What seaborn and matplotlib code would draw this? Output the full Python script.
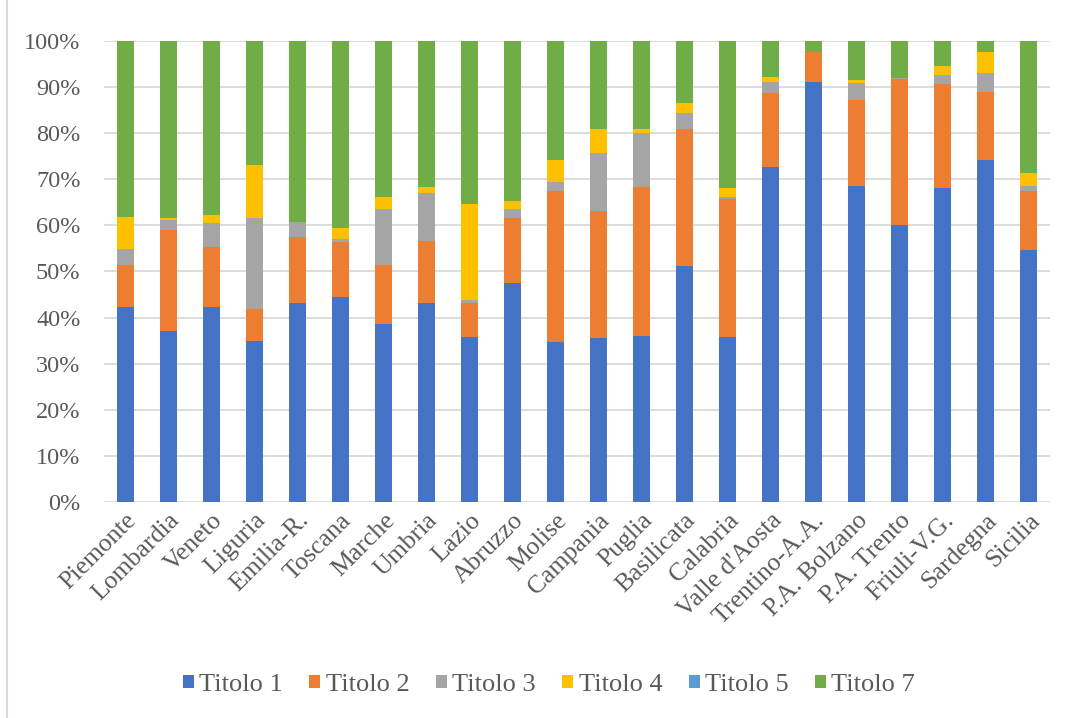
import numpy as np
import matplotlib
matplotlib.use("Agg")
import matplotlib.pyplot as plt
import seaborn as sns
from matplotlib.ticker import PercentFormatter
from matplotlib.patches import Patch
from matplotlib.lines import Line2D

# Regions (x axis)
regioni = ["Piemonte", "Lombardia", "Veneto", "Liguria", "Emilia-R.", "Toscana",
           "Marche", "Umbria", "Lazio", "Abruzzo", "Molise", "Campania", "Puglia",
           "Basilicata", "Calabria", "Valle d'Aosta", "Trentino-A.A.", "P.A. Bolzano",
           "P.A. Trento", "Friuli-V.G.", "Sardegna", "Sicilia"]

# Share of each title per region (percent)
titolo_1 = [42.4, 37.2, 42.4, 35.0, 43.1, 44.4, 38.6, 43.1, 35.8, 47.5, 34.7,
            35.5, 36.0, 51.1, 35.7, 72.7, 91.1, 68.6, 60.0, 68.0, 74.1, 54.7]
titolo_2 = [9.0, 21.7, 12.8, 6.9, 14.4, 12.0, 12.7, 13.5, 7.4, 14.1, 32.7,
            27.5, 32.3, 29.7, 30.0, 15.9, 6.4, 18.6, 31.6, 22.6, 14.8, 12.7]
titolo_3 = [3.5, 2.2, 5.3, 19.7, 3.3, 0.6, 12.2, 10.3, 0.6, 1.9, 2.0,
            12.7, 11.6, 3.6, 0.4, 2.4, 0.0, 3.6, 0.3, 1.9, 4.0, 1.2]
titolo_4 = [7.0, 0.5, 1.7, 11.4, 0.0, 2.4, 2.6, 1.4, 20.9, 1.8, 4.7,
            5.1, 1.0, 2.0, 2.0, 1.2, 0.0, 0.6, 0.0, 2.0, 4.6, 2.7]
titolo_5 = [0.0] * 22
titolo_7 = [38.1, 38.4, 37.8, 27.0, 39.2, 40.6, 33.9, 31.7, 35.3, 34.7, 25.9,
            19.2, 19.1, 13.6, 31.9, 7.8, 2.5, 8.6, 8.1, 5.5, 2.5, 28.7]

serie = ["Titolo 1", "Titolo 2", "Titolo 3", "Titolo 4", "Titolo 5", "Titolo 7"]
colori = ["#4472C4", "#ED7D31", "#A5A5A5", "#FFC000", "#5B9BD5", "#70AD47"]
valori = [titolo_1, titolo_2, titolo_3, titolo_4, titolo_5, titolo_7]

sns.set_theme(style="white")
plt.rcParams["font.family"] = ["Liberation Serif", "DejaVu Serif"]
testo = "#595959"
griglia = "#D9D9D9"

fig = plt.figure(figsize=(10.65, 7.18), dpi=100)
ax = fig.add_axes([104 / 1065, 1 - 502.2 / 718, 946 / 1065, 461.5 / 718])

# Gridlines behind the bars
ax.set_axisbelow(True)
ax.yaxis.grid(True, color=griglia, linewidth=1.3)

base = np.zeros(len(regioni))
for nome, vals, col in zip(serie, valori, colori):
    v = np.array(vals) / 100.0
    sns.barplot(x=regioni, y=v, bottom=base, color=col, saturation=1,
                width=0.385, errorbar=None, ax=ax, linewidth=0)
    base = base + v

ax.set_ylim(0, 1)
ax.set_xlim(-0.5, len(regioni) - 0.5)
ax.set_yticks(np.arange(0, 1.01, 0.1))
ax.yaxis.set_major_formatter(PercentFormatter(1.0, decimals=0))
ax.set_xlabel("")
ax.set_ylabel("")
for s in ax.spines.values():
    s.set_visible(False)

ax.tick_params(axis="y", length=0, pad=17, labelsize=17.5, labelcolor=testo)
ax.tick_params(axis="x", length=0, pad=5, labelsize=18.5, labelcolor=testo)
for lab in ax.get_xticklabels():
    lab.set_rotation(45)
    lab.set_ha("right")
    lab.set_va("top")
    lab.set_rotation_mode("anchor")

handles = [Patch(facecolor=c, edgecolor="none") for c in colori]
fig.legend(handles, serie, loc="center", bbox_to_anchor=(549 / 1065, 1 - 685 / 718),
           ncol=6, frameon=False, fontsize=19, handlelength=0.42, handleheight=0.42,
           handletextpad=0.2, columnspacing=1.0, labelcolor=testo)

# Chart frame edge on the left
fig.add_artist(Line2D([7 / 1065, 7 / 1065], [0, 1], color=griglia, linewidth=1.5,
                      transform=fig.transFigure))

fig.savefig("out.png", dpi=100)
